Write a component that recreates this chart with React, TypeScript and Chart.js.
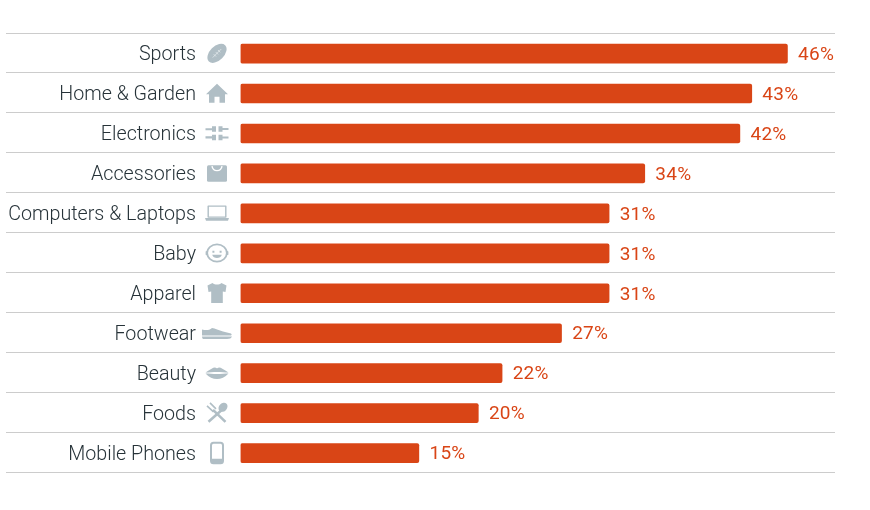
import React, { useEffect, useRef } from "react";
import { Chart, registerables } from "chart.js";

Chart.register(...registerables);

const categories = ["Sports", "Home & Garden", "Electronics", "Accessories", "Computers & Laptops", "Baby", "Apparel", "Footwear", "Beauty", "Foods", "Mobile Phones"];
const shares = [46, 43, 42, 34, 31, 31, 31, 27, 22, 20, 15];
const iconNames = ["ball", "home", "plug", "bag", "laptop", "baby", "shirt", "shoe", "lips", "food", "phone"];

const ICON = "#b0bec5";
const ORANGE = "#d94516";

function drawIcon(c: CanvasRenderingContext2D, name: string, x: number, y: number) {
  c.save();
  c.translate(x, y);
  c.fillStyle = ICON;
  c.strokeStyle = ICON;
  c.lineCap = "butt";
  c.lineJoin = "round";
  const fill = (d: string) => c.fill(new Path2D(d), "evenodd");
  const stroke = (d: string, w: number) => { c.lineWidth = w; c.stroke(new Path2D(d)); };
  if (name === "ball") {
    c.rotate(-Math.PI / 4);
    c.beginPath();
    c.ellipse(0, 0, 11.5, 7.2, 0, 0, Math.PI * 2);
    c.fill();
    c.strokeStyle = "#e8edf0";
    stroke("M-6 0H6M-3 -1.6V1.6M0 -1.6V1.6M3 -1.6V1.6", 0.7);
  } else if (name === "home") {
    fill("M0 -9.5L11 1H8V9.5H2.5V3.5H-2.5V9.5H-8V1H-11Z");
  } else if (name === "plug") {
    fill("M-11.5 -5H-5V-7H-1V-1.5H-5V-3H-11.5ZM1.5 -7H5.5V-5.2H11.5V-3.2H5.5V-1.5H1.5ZM-11.5 3H-5V1.5H-1V7H-5V5.2H-11.5ZM1.5 1.5H5.5V3.2H11.5V5.2H5.5V7H1.5Z");
  } else if (name === "bag") {
    c.beginPath();
    c.roundRect(-10, -8, 20, 16.5, 1.5);
    c.fill();
    c.strokeStyle = "#ffffff";
    stroke("M-5 -7C-4 -1 4 -1 5 -7", 1.4);
  } else if (name === "laptop") {
    stroke("M-8.8 -7H8.8V4H-8.8Z", 1.4);
    fill("M-12 5H12L11 7.6H-11Z");
  } else if (name === "baby") {
    c.lineWidth = 1.7;
    c.beginPath();
    c.ellipse(0, 0, 9.8, 8.6, 0, 0, Math.PI * 2);
    c.stroke();
    fill("M-11.4 -1.6L-9.6 -2.4V2.4L-11.4 1.6ZM11.4 -1.6L9.6 -2.4V2.4L11.4 1.6ZM-4.6 -2.4H-2.6V-0.4H-4.6ZM2.6 -2.4H4.6V-0.4H2.6ZM-4.8 1.6H4.8C3.8 6 -3.8 6 -4.8 1.6Z");
  } else if (name === "shirt") {
    fill("M-4.5 -10C-2 -8 2 -8 4.5 -10L9.5 -7.5L8.5 -1L5.8 -1.5V10H-5.8V-1.5L-8.5 -1L-9.5 -7.5Z");
  } else if (name === "shoe") {
    fill("M-15 -3.5C-11 -2.5 -8 -2.5 -5 -5C-2 -5 2 -2.5 6 -1.5L14 0.5Q15.5 2 14 2.5H-15Z");
    fill("M-15 3.5H15Q14 6 10 6H-14Q-15 5 -15 3.5Z");
  } else if (name === "lips") {
    fill("M-11.5 -0.3C-7 -3.5 -4 -5.5 -2 -5.5C-1 -5.5 0 -4.5 0 -4.5C0 -4.5 1 -5.5 2 -5.5C4 -5.5 7 -3.5 11.5 -0.3C8 -0.8 4 -1 0 -1C-4 -1 -8 -0.8 -11.5 -0.3ZM-11.5 0.5C-8 0.6 -4 1 0 1C4 1 8 0.6 11.5 0.5C8 4.5 4 6 0 6C-4 6 -8 4.5 -11.5 0.5Z");
  } else if (name === "food") {
    stroke("M-8.5 9L5 -3", 2.6);
    stroke("M8.5 9L-4 -3", 2.6);
    stroke("M-10 -7L-3.5 -1M-7 -10L-1 -4", 1.6);
    c.beginPath();
    c.ellipse(6, -5.5, 4, 5, Math.PI / 4, 0, Math.PI * 2);
    c.fill();
  } else if (name === "phone") {
    c.lineWidth = 2;
    c.beginPath();
    c.roundRect(-6, -10, 12, 20.4, 2.5);
    c.stroke();
    fill("M-6 6H6V9Q6 10.5 4 10.5H-4Q-6 10.5 -6 9Z");
  }
  c.restore();
}

const decorations = {
  id: "decorations",
  beforeDatasetsDraw(chart: any) {
    chart.ctx.save();
    chart.ctx.translate(0, 0.6);
  },
  afterDatasetsDraw(chart: any) {
    const { ctx } = chart;
    ctx.restore();
    const xs = chart.scales.x;
    const ys = chart.scales.y;
    ctx.save();
    categories.forEach((_, i) => {
      const y = ys.getPixelForValue(i);
      drawIcon(ctx, iconNames[i], 217, y + 0.3);
      ctx.font = "400 19px Roboto";
      ctx.fillStyle = ORANGE;
      ctx.textAlign = "left";
      ctx.textBaseline = "middle";
      ctx.letterSpacing = "0.25px";
      ctx.fillText(`${shares[i]}%`, xs.getPixelForValue(shares[i]) + 10.6, y + 2.1);
    });
    ctx.restore();
  },
};

export default function App() {
  const ref = useRef<HTMLCanvasElement>(null);
  useEffect(() => {
    const chart = new Chart(ref.current!, {
      type: "bar",
      data: {
        labels: categories,
        datasets: [{ data: shares, backgroundColor: ORANGE, borderRadius: 2, borderSkipped: false, barThickness: 19 }],
      },
      options: {
        indexAxis: "y",
        animation: false,
        responsive: false,
        layout: { padding: { left: 0, right: 35, top: 33, bottom: 37.55 } },
        plugins: { legend: { display: false }, tooltip: { enabled: false } },
        scales: {
          x: { min: 0, max: 50, display: false },
          y: {
            afterFit: (s: any) => { s.width = 240.5; },
            border: { display: false },
            grid: { color: "#cccccc", lineWidth: 1, tickLength: 234.5, offset: true },
            ticks: {
              color: "#263238",
              padding: -190,
              labelOffset: 2.4,
              font: { family: "Roboto", size: 19.7, weight: "300" },
            },
          },
        },
      },
      plugins: [decorations],
    });
    return () => chart.destroy();
  }, []);
  return <canvas ref={ref} width={870} height={510} style={{ position: "fixed", left: 0, top: 0 }} />;
}
